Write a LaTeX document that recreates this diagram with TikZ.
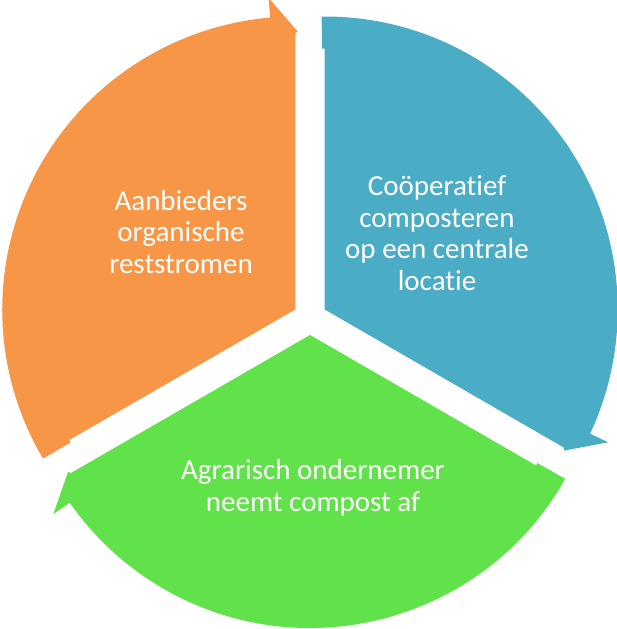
\documentclass[tikz,border=0pt]{standalone}
\usepackage{fontspec}
\setmainfont[Ligatures=NoCommon]{Carlito}
\usepackage{tikz}
\usetikzlibrary{positioning,calc}

\definecolor{segorange}{HTML}{F79646}
\definecolor{segblue}{HTML}{4BACC6}
\definecolor{seggreen}{HTML}{62E24A}

\begin{document}
\begin{tikzpicture}[x=1pt,y=1pt,
	lbl/.style={text=white, align=center,
		font=\fontsize{29}{31.5}\selectfont}]
	\useasboundingbox (-310,-311) rectangle (307,318);

	\coordinate (O1) at (150:17);
	\coordinate (O2) at (30:17);
	\coordinate (O3) at (270:17);

	% orange part, 210 -> 90
	\fill[segorange] (O1) -- ($(O1)+(210:261)$) -- ($(O1)+(210.6:261)$)
		-- ($(O1)+(210.6:293)$) arc[start angle=210.6, end angle=94.9, radius=293]
		-- ($(O1)+(94.9:313)$) -- ($(O1)+(89.5:278)$) -- ($(O1)+(90:276)$) -- cycle;
	% blue part, 90 -> -30
	\fill[segblue] (O2) -- ($(O2)+(90:261)$) -- ($(O2)+(90.6:261)$)
		-- ($(O2)+(90.6:293)$) arc[start angle=90.6, end angle=-25.1, radius=293]
		-- ($(O2)+(-25.1:313)$) -- ($(O2)+(-30.5:278)$) -- ($(O2)+(-30:276)$) -- cycle;
	% green part, -30 -> -150
	\fill[seggreen] (O3) -- ($(O3)+(-30:261)$) -- ($(O3)+(-29.4:261)$)
		-- ($(O3)+(-29.4:293)$) arc[start angle=-29.4, end angle=-145.1, radius=293]
		-- ($(O3)+(-145.1:313)$) -- ($(O3)+(-150.5:278)$) -- ($(O3)+(-150:276)$) -- cycle;

	\node[lbl] (aanbod) at (-129,86) {Aanbieders\\organische\\reststromen};
	\node[lbl] (compost) at (127,85) {Coöperatief\\composteren\\op een centrale\\locatie};
	\node[lbl] (afname) at (3,-170) {Agrarisch ondernemer\\neemt compost af};
\end{tikzpicture}
\end{document}
